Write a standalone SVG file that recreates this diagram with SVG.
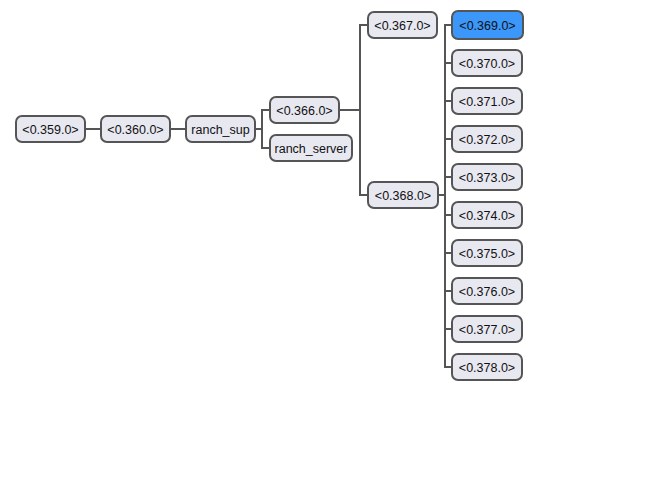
<svg xmlns="http://www.w3.org/2000/svg" width="662" height="477" viewBox="0 0 662 477">
<style>
.n rect{fill:#e8e8f1;stroke:#555;stroke-width:2}
.n.sel rect{fill:#3c97fa}
.n text{font-family:"Liberation Sans",Arial,sans-serif;font-size:12.5px;fill:#111;text-anchor:middle;dominant-baseline:central}
.c path{fill:none;stroke:#555;stroke-width:2}
</style>
<rect width="662" height="477" fill="#fff"/>
<g class="c">
<path d="M85 129H101"/>
<path d="M170 129H186"/>
<path d="M255 129H262M270 110H262V148H270"/>
<path d="M339 110H360M368 25H360V195H368"/>
<path d="M438 195H445M452 25H445V367H452M445 63H452M445 101H452M445 139H452M445 177H452M445 215H452M445 253H452M445 291H452M445 329H452"/>
</g>
<g class="n" id="n359"><rect x="16" y="116" width="69" height="26" rx="6"/><text x="50.5" y="130">&lt;0.359.0&gt;</text></g>
<g class="n" id="n360"><rect x="101" y="116" width="69" height="26" rx="6"/><text x="135.5" y="130">&lt;0.360.0&gt;</text></g>
<g class="n" id="ranch_sup"><rect x="186" y="116" width="69" height="26" rx="6"/><text x="220.5" y="130">ranch_sup</text></g>
<g class="n" id="n366"><rect x="270" y="97" width="69" height="26" rx="6"/><text x="304.5" y="111">&lt;0.366.0&gt;</text></g>
<g class="n" id="ranch_server"><rect x="270" y="135" width="82" height="26" rx="6"/><text x="311" y="149">ranch_server</text></g>
<g class="n" id="n367"><rect x="368" y="12" width="69" height="26" rx="6"/><text x="402.5" y="26">&lt;0.367.0&gt;</text></g>
<g class="n" id="n368"><rect x="368" y="182" width="70" height="26" rx="6"/><text x="403" y="196">&lt;0.368.0&gt;</text></g>
<g class="n sel" id="n369"><rect x="452" y="11" width="71" height="28" rx="6"/><text x="487.5" y="26">&lt;0.369.0&gt;</text></g>
<g class="n" id="n370"><rect x="452" y="50" width="70" height="26" rx="6"/><text x="487" y="64">&lt;0.370.0&gt;</text></g>
<g class="n" id="n371"><rect x="452" y="88" width="70" height="26" rx="6"/><text x="487" y="102">&lt;0.371.0&gt;</text></g>
<g class="n" id="n372"><rect x="452" y="126" width="70" height="26" rx="6"/><text x="487" y="140">&lt;0.372.0&gt;</text></g>
<g class="n" id="n373"><rect x="452" y="164" width="70" height="26" rx="6"/><text x="487" y="178">&lt;0.373.0&gt;</text></g>
<g class="n" id="n374"><rect x="452" y="202" width="70" height="26" rx="6"/><text x="487" y="216">&lt;0.374.0&gt;</text></g>
<g class="n" id="n375"><rect x="452" y="240" width="70" height="26" rx="6"/><text x="487" y="254">&lt;0.375.0&gt;</text></g>
<g class="n" id="n376"><rect x="452" y="278" width="70" height="26" rx="6"/><text x="487" y="292">&lt;0.376.0&gt;</text></g>
<g class="n" id="n377"><rect x="452" y="316" width="70" height="26" rx="6"/><text x="487" y="330">&lt;0.377.0&gt;</text></g>
<g class="n" id="n378"><rect x="452" y="354" width="70" height="26" rx="6"/><text x="487" y="368">&lt;0.378.0&gt;</text></g>
</svg>
